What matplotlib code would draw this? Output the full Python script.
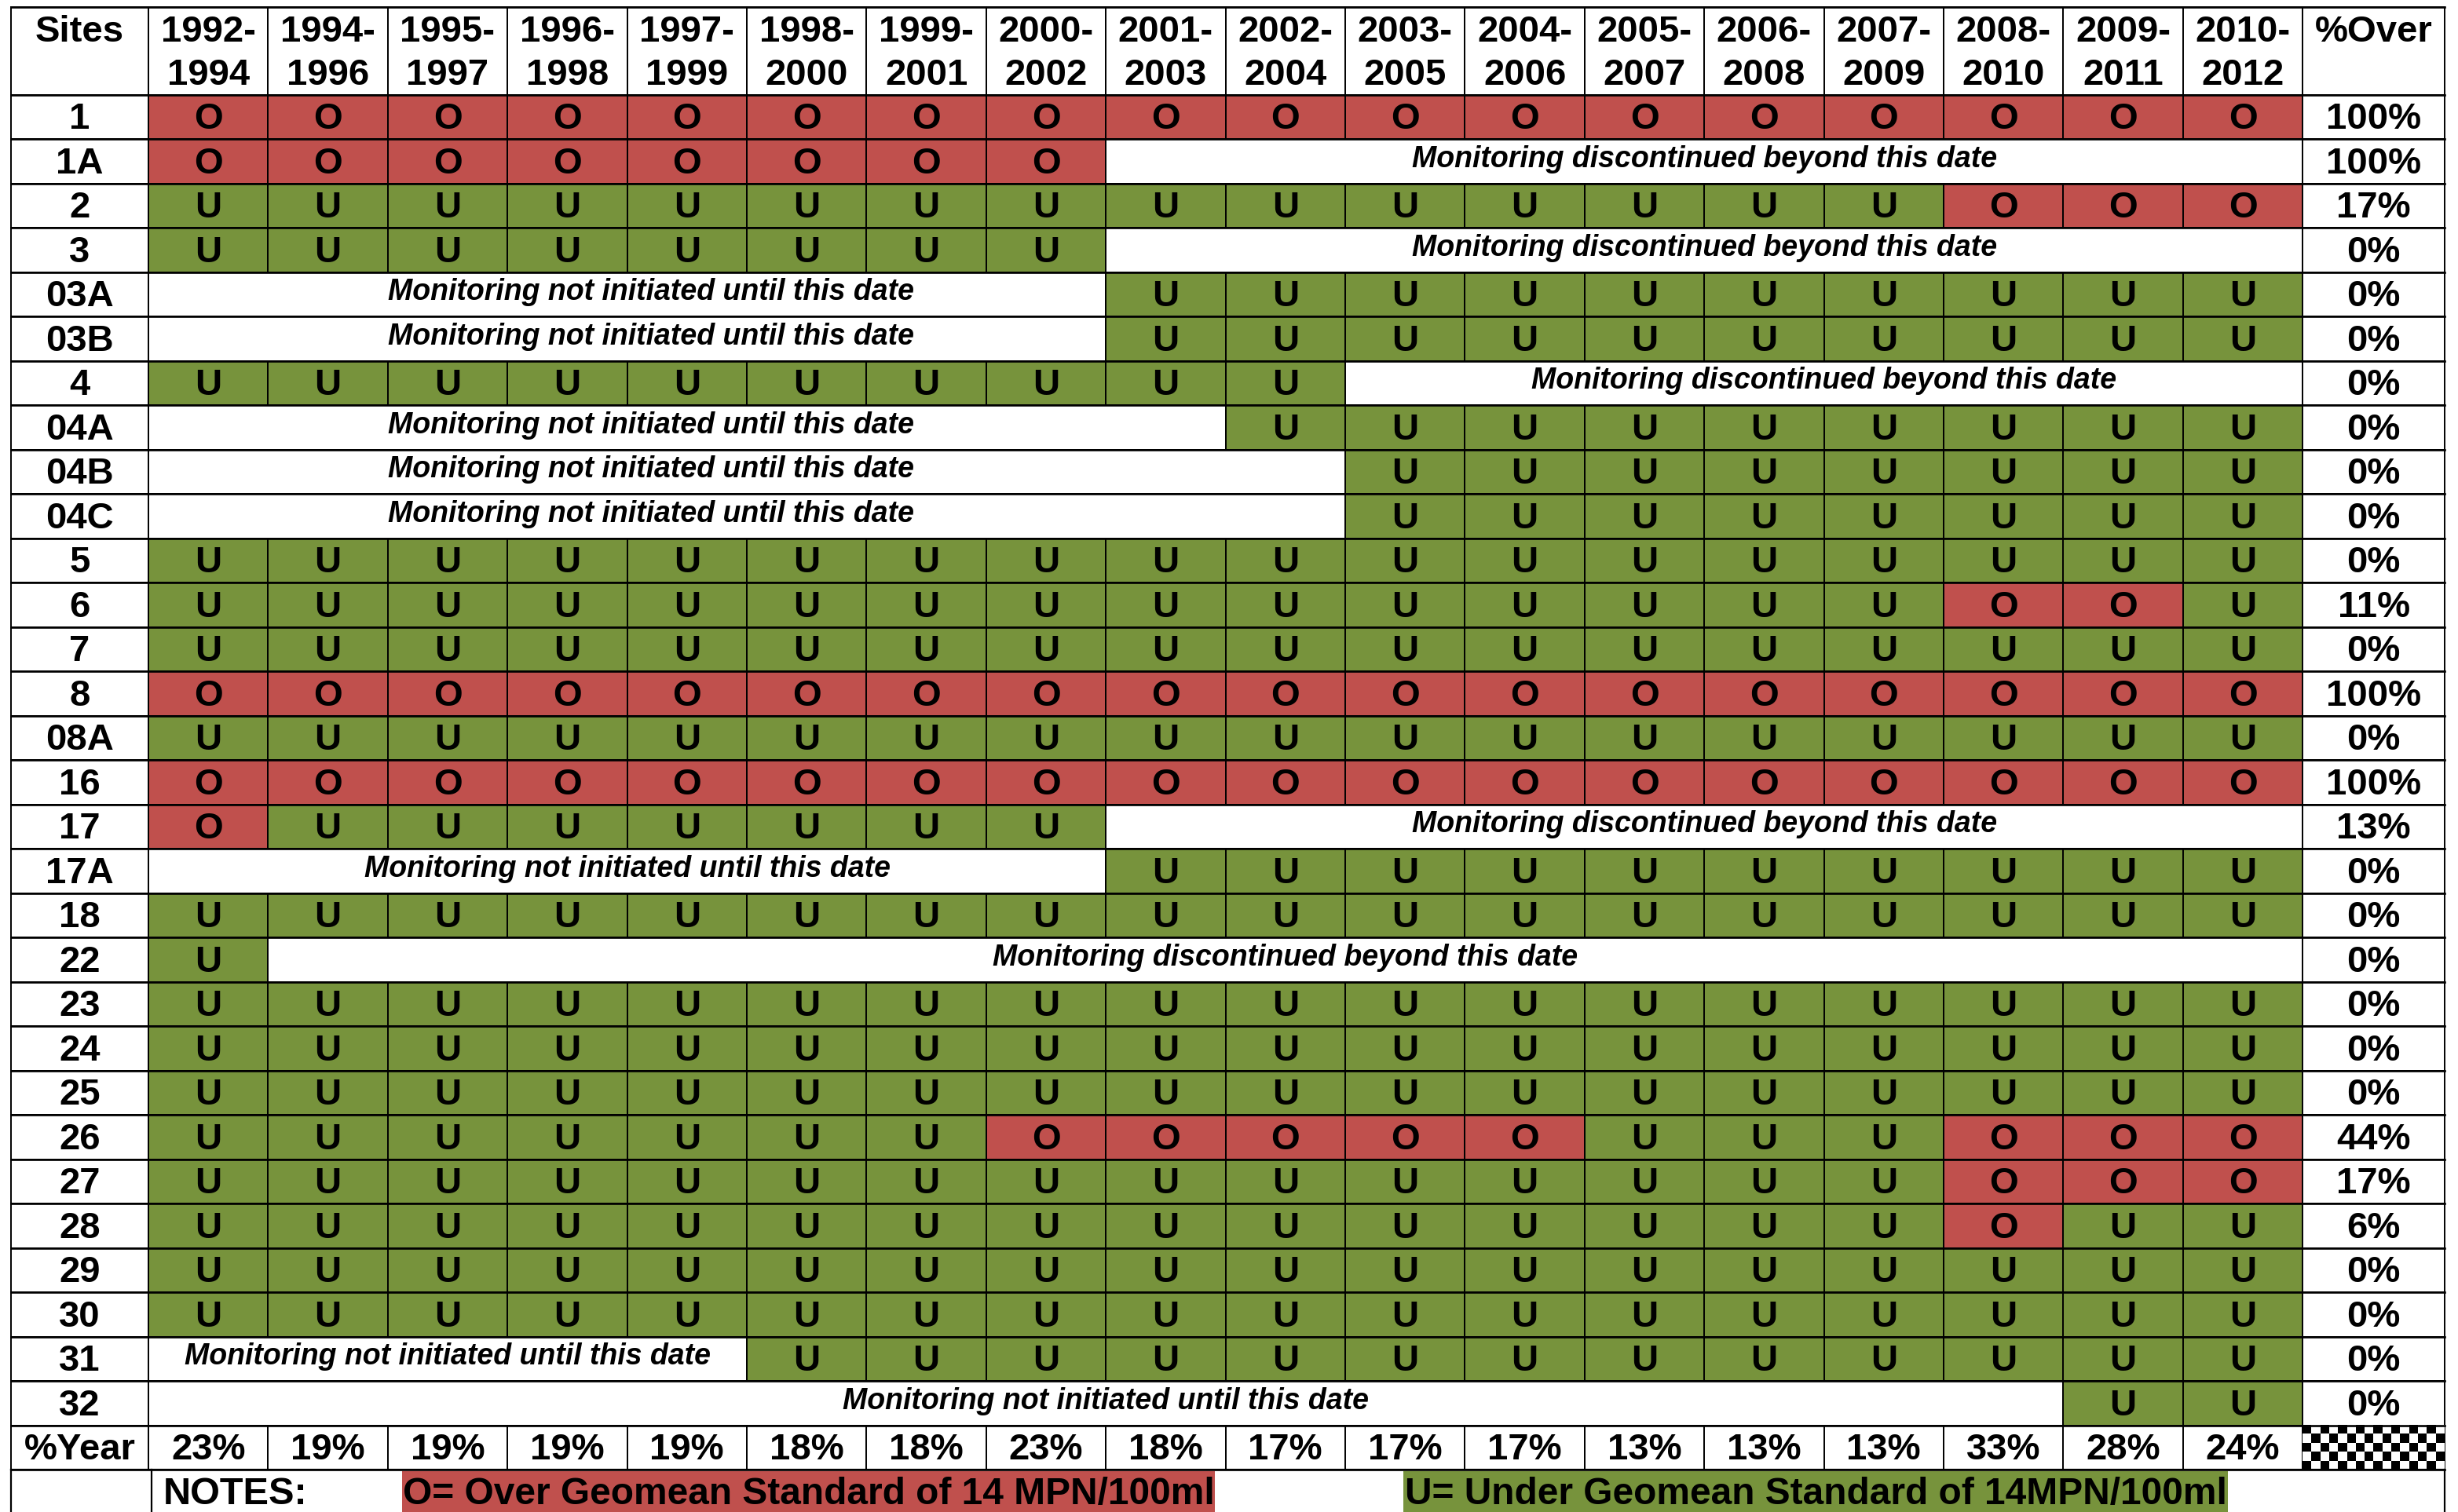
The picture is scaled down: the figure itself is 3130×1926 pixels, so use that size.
import itertools
import numpy as np
import matplotlib.pyplot as plt
from matplotlib.patches import Rectangle

periods = ["1992-\n1994", "1994-\n1996", "1995-\n1997", "1996-\n1998", "1997-\n1999",
           "1998-\n2000", "1999-\n2001", "2000-\n2002", "2001-\n2003", "2002-\n2004",
           "2003-\n2005", "2004-\n2006", "2005-\n2007", "2006-\n2008", "2007-\n2009",
           "2008-\n2010", "2009-\n2011", "2010-\n2012"]

sites = ["1", "1A", "2", "3", "03A", "03B", "4", "04A", "04B", "04C", "5", "6", "7", "8",
         "08A", "16", "17", "17A", "18", "22", "23", "24", "25", "26", "27", "28", "29",
         "30", "31", "32"]

# O = over standard, U = under, D = monitoring discontinued, N = not yet initiated
status = [
    "OOOOOOOOOOOOOOOOOO",
    "OOOOOOOODDDDDDDDDD",
    "UUUUUUUUUUUUUUUOOO",
    "UUUUUUUUDDDDDDDDDD",
    "NNNNNNNNUUUUUUUUUU",
    "NNNNNNNNUUUUUUUUUU",
    "UUUUUUUUUUDDDDDDDD",
    "NNNNNNNNNUUUUUUUUU",
    "NNNNNNNNNNUUUUUUUU",
    "NNNNNNNNNNUUUUUUUU",
    "UUUUUUUUUUUUUUUUUU",
    "UUUUUUUUUUUUUUUOOU",
    "UUUUUUUUUUUUUUUUUU",
    "OOOOOOOOOOOOOOOOOO",
    "UUUUUUUUUUUUUUUUUU",
    "OOOOOOOOOOOOOOOOOO",
    "OUUUUUUUDDDDDDDDDD",
    "NNNNNNNNUUUUUUUUUU",
    "UUUUUUUUUUUUUUUUUU",
    "UDDDDDDDDDDDDDDDDD",
    "UUUUUUUUUUUUUUUUUU",
    "UUUUUUUUUUUUUUUUUU",
    "UUUUUUUUUUUUUUUUUU",
    "UUUUUUUOOOOOUUUOOO",
    "UUUUUUUUUUUUUUUOOO",
    "UUUUUUUUUUUUUUUOUU",
    "UUUUUUUUUUUUUUUUUU",
    "UUUUUUUUUUUUUUUUUU",
    "NNNNNUUUUUUUUUUUUU",
    "NNNNNNNNNNNNNNNNUU",
]

pct_over = ["100%", "100%", "17%", "0%", "0%", "0%", "0%", "0%", "0%", "0%", "0%", "11%",
            "0%", "100%", "0%", "100%", "13%", "0%", "0%", "0%", "0%", "0%", "0%", "44%",
            "17%", "6%", "0%", "0%", "0%", "0%"]

pct_year = ["23%", "19%", "19%", "19%", "19%", "18%", "18%", "23%", "18%", "17%", "17%",
            "17%", "13%", "13%", "13%", "33%", "28%", "24%"]

messages = {"D": "Monitoring discontinued beyond this date",
            "N": "Monitoring not initiated until this date"}
# a few merged cells in the sheet put their note a bit off the span centre
msg_shift = {"03A": 0.2, "03B": 0.2, "04A": -0.3, "04B": -0.8, "04C": -0.8}

RED = "#C0504D"
GREEN = "#77933C"
FONT = ["Liberation Sans", "DejaVu Sans"]
fills = {"O": RED, "U": GREEN}

fig = plt.figure(figsize=(31.3, 19.26), dpi=100)
ax = fig.add_axes([0, 0, 1, 1])
ax.set_xlim(0, 3130)
ax.set_ylim(1926, 0)
ax.axis("off")

# layout (pixels)
left, site_r, col_w, right = 14, 189, 152.4, 3113
top, head_h, row_h = 9, 112, 56.5
ncol = len(periods)
xcol = site_r + col_w * np.arange(ncol + 1)
over_l = xcol[-1]


def row_top(i):
    return top + head_h + row_h * i


def box(x, y, w, h, fc="white"):
    ax.add_patch(Rectangle((x, y), w, h, facecolor=fc, edgecolor="black", lw=1.4, zorder=1))


def txt(x, y, s, size=34, style="normal", **kw):
    ax.text(x, y, s, ha="center", va="center", fontsize=size, fontweight="bold",
            fontstyle=style, family=FONT, zorder=3, **kw)


# header
box(left, top, site_r - left, head_h)
txt((left + site_r) / 2, top + 32, "Sites")
for j, p in enumerate(periods):
    box(xcol[j], top, col_w, head_h)
    a, b = p.split("\n")
    txt(xcol[j] + col_w / 2, top + 32, a)
    txt(xcol[j] + col_w / 2, top + 87, b)
box(over_l, top, right - over_l, head_h)
txt((over_l + right) / 2, top + 32, "%Over")

# site rows
for i, (site, row) in enumerate(zip(sites, status)):
    y = row_top(i)
    yc = y + row_h / 2
    box(left, y, site_r - left, row_h)
    txt((left + site_r) / 2, yc + 3, site)
    j = 0
    for code, grp in itertools.groupby(row):
        n = len(list(grp))
        if code in fills:
            for k in range(j, j + n):
                box(xcol[k], y, col_w, row_h, fills[code])
                txt(xcol[k] + col_w / 2, yc + 3, code)
        else:
            box(xcol[j], y, col_w * n, row_h)
            xm = xcol[j] + col_w * (n / 2 + msg_shift.get(site, 0))
            txt(xm, yc - 3, messages[code], size=27, style="italic")
        j += n
    box(over_l, y, right - over_l, row_h)
    txt((over_l + right) / 2, yc + 3, pct_over[i])

# %Year row
y = row_top(len(sites))
yc = y + row_h / 2
box(left, y, site_r - left, row_h)
txt((left + site_r) / 2, yc + 3, "%Year")
for j, v in enumerate(pct_year):
    box(xcol[j], y, col_w, row_h)
    txt(xcol[j] + col_w / 2, yc + 3, v)
checker = np.indices((5, 16)).sum(axis=0) % 2
ax.imshow(checker, cmap="gray", extent=(over_l, right, y + row_h, y), aspect="auto",
          interpolation="nearest", zorder=2)
box(over_l, y, right - over_l, row_h, fc="none")

# notes row
y = row_top(len(sites) + 1)
ax.plot([left, right], [y, y], color="black", lw=1.6, zorder=2)
for x in (left, 193, right):
    ax.plot([x, x], [y, 1926], color="black", lw=1.6, zorder=2)
txt(300, y + 31, "NOTES:", size=35)
ax.add_patch(Rectangle((512, y + 2), 1035, 60, facecolor=RED, lw=0, zorder=1))
txt(1030, y + 31, "O= Over Geomean Standard of 14 MPN/100ml", size=34.5)
ax.add_patch(Rectangle((1787, y + 2), 1050, 60, facecolor=GREEN, lw=0, zorder=1))
txt(2312, y + 31, "U= Under Geomean Standard of 14MPN/100ml", size=34.5)

# thicker horizontal rules between rows
for i in range(len(sites) + 2):
    ax.plot([left, right], [row_top(i), row_top(i)], color="black", lw=1.9, zorder=2)
ax.plot([left, right], [top, top], color="black", lw=1.9, zorder=2)

fig.savefig("out.png", dpi=100)
